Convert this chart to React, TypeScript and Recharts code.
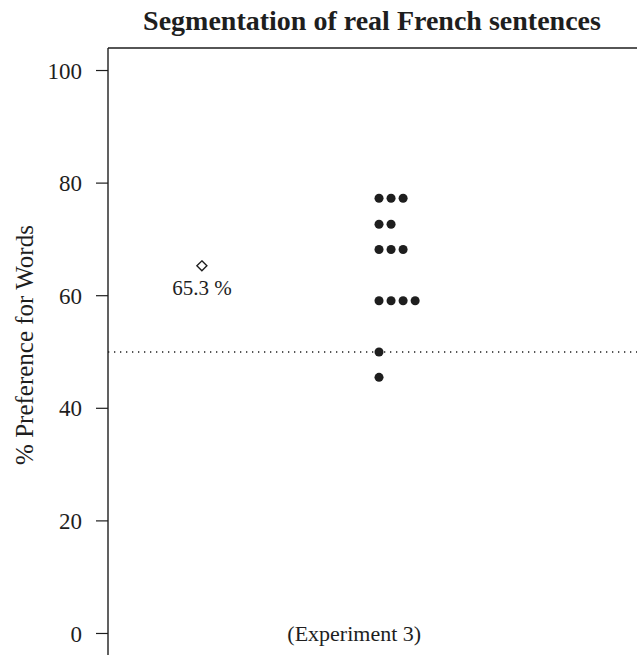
import {
  LabelList,
  ReferenceDot,
  ReferenceLine,
  Scatter,
  ScatterChart,
  XAxis,
  YAxis,
  ZAxis,
} from 'recharts';

// % preference for words, one value per participant (Experiment 3)
const scores = [77.3, 77.3, 77.3, 72.7, 72.7, 68.2, 68.2, 68.2, 59.1, 59.1, 59.1, 59.1, 50.0, 45.5];
const meanScore = 65.3;
const chanceLevel = 50;
const yTicks = [0, 20, 40, 60, 80, 100];

const title = 'Segmentation of real French sentences';
const yLabel = '% Preference for Words';
const groupLabel = '(Experiment 3)';

const groupX = 2;
const meanX = 1;
const stackStep = 0.068;

const ink = '#1e1e1e';
const font = '"Liberation Serif", "Times New Roman", serif';

// stack identical scores side by side, like stripchart(method = "stack")
const seen: Record<string, number> = {};
const dots = scores.map((s) => {
  const k = seen[s] ?? 0;
  seen[s] = k + 1;
  return { x: groupX + k * stackStep, y: s };
});

const meanPoint = [{ x: meanX, y: meanScore, text: `${meanScore.toFixed(1)} %` }];

const Diamond = (props: any) => {
  const { cx, cy } = props;
  const r = 5;
  return (
    <polygon
      points={`${cx},${cy - r} ${cx + r},${cy} ${cx},${cy + r} ${cx - r},${cy}`}
      fill="#fff"
      stroke={ink}
      strokeWidth={1.4}
    />
  );
};

const MeanText = (props: any) => {
  const { x, y, width, height, value } = props;
  return (
    <text
      x={x + width / 2}
      y={y + height + 25}
      textAnchor="middle"
      fill={ink}
      fontSize={21}
      fontFamily={font}
    >
      {value}
    </text>
  );
};

const TitleText = (props: any) => {
  const { viewBox } = props;
  return (
    <text
      x={viewBox.x + 264}
      y={viewBox.y - 18}
      textAnchor="middle"
      fill={ink}
      fontSize={28}
      fontWeight={700}
      fontFamily={font}
    >
      {title}
    </text>
  );
};

export default function App() {
  return (
    <div
      style={{
        position: 'fixed',
        left: 0,
        top: 0,
        width: 637,
        height: 655,
        overflow: 'hidden',
        background: '#fff',
      }}
    >
      <ScatterChart
        width={751}
        height={680}
        margin={{ top: 48, right: 0, bottom: 24, left: 0 }}
        style={{ fontFamily: font }}
      >
        <XAxis type="number" dataKey="x" domain={[0.47, 4.1]} hide />
        <YAxis
          type="number"
          dataKey="y"
          domain={[-4, 104]}
          ticks={yTicks}
          width={108}
          tickSize={12}
          tickMargin={14}
          tick={{ fill: ink, fontSize: 23, fontFamily: font }}
          tickLine={{ stroke: ink, strokeWidth: 1.2 }}
          axisLine={{ stroke: ink, strokeWidth: 1.4 }}
          label={{
            value: yLabel,
            angle: -90,
            position: 'center',
            dx: -30,
            dy: -7,
            fontSize: 25,
            fill: ink,
            fontFamily: font,
          }}
        />
        <ZAxis range={[45, 45]} />
        <ReferenceLine
          y={104}
          stroke={ink}
          strokeWidth={1.4}
          label={{ content: TitleText }}
        />
        <ReferenceLine
          y={chanceLevel}
          stroke={ink}
          strokeWidth={1.3}
          strokeDasharray="1.3 4.7"
        />
        <ReferenceDot
          x={1.86}
          y={0}
          r={1}
          fill="none"
          stroke="none"
          label={{ value: groupLabel, position: 'center', fontSize: 22, fill: ink, fontFamily: font }}
        />
        <Scatter data={dots} fill={ink} isAnimationActive={false} />
        <Scatter data={meanPoint} shape={Diamond} isAnimationActive={false}>
          <LabelList dataKey="text" content={MeanText} />
        </Scatter>
      </ScatterChart>
    </div>
  );
}
